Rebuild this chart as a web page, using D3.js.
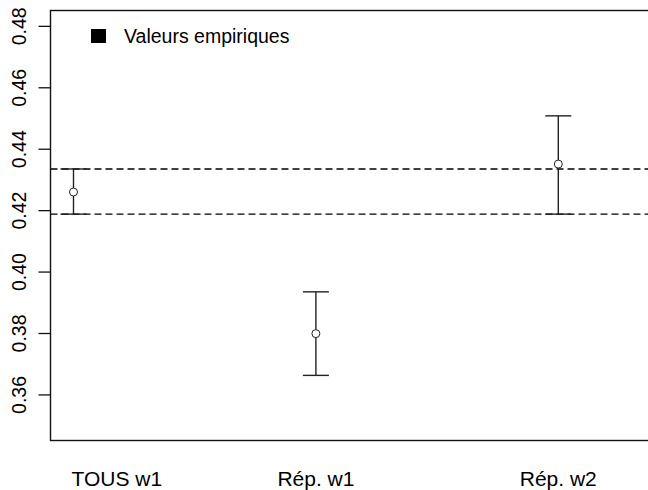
<!DOCTYPE html>
<html>
<head>
<meta charset="utf-8">
<script src="https://cdn.jsdelivr.net/npm/d3@7"></script>
<style>
  html, body { margin: 0; padding: 0; background: #fff; }
  svg { display: block; font-family: "Liberation Sans", Arial, sans-serif; }
</style>
</head>
<body>
<svg id="chart" width="648" height="490"></svg>
<script>
// Groups and their estimates with confidence bounds
const groups = ["TOUS w1", "Rép. w1", "Rép. w2"];
const estimates = [0.4259, 0.3798, 0.4350];
const lowerBounds = [0.4187, 0.3662, 0.4187];
const upperBounds = [0.4334, 0.3934, 0.4507];
// Reference band drawn as dashed horizontal lines
const referenceLines = [0.4334, 0.4187];
const yTicks = [0.36, 0.38, 0.40, 0.42, 0.44, 0.46, 0.48];
const legendLabel = "Valeurs empiriques";

const svg = d3.select("#chart");
const W = 648, H = 490;
const plot = { left: 50.5, top: 10.5, right: 652, bottom: 440.5 };

const y = d3.scaleLinear().domain([0.345, 0.485]).range([plot.bottom, plot.top]);
const x = d3.scaleLinear().domain([1, 3]).range([73.5, 558.3]);

// y axis with rotated tick labels
const yAxis = d3.axisLeft(y).tickValues(yTicks).tickSize(12).tickSizeOuter(0)
  .tickFormat(d3.format(".2f"));
const gy = svg.append("g").attr("transform", `translate(${plot.left},0)`).call(yAxis);
gy.select(".domain").remove();
gy.selectAll(".tick line").attr("stroke", "#111").attr("stroke-width", 1.3);
gy.selectAll(".tick text")
  .attr("x", null).attr("dy", null)
  .attr("transform", "translate(-25,0) rotate(-90)")
  .attr("text-anchor", "middle")
  .attr("font-size", 19.5)
  .attr("fill", "#000");

// reference dashed lines
svg.append("g").selectAll("line").data(referenceLines).join("line")
  .attr("x1", plot.left).attr("x2", W)
  .attr("y1", d => y(d)).attr("y2", d => y(d))
  .attr("stroke", "#000").attr("stroke-width", 1.3)
  .attr("stroke-dasharray", "7,4");

// error bars
const capHalf = 13;
const bars = svg.append("g").selectAll("g").data(groups).join("g");
bars.append("line")
  .attr("x1", (d, i) => x(i + 1)).attr("x2", (d, i) => x(i + 1))
  .attr("y1", (d, i) => y(lowerBounds[i])).attr("y2", (d, i) => y(upperBounds[i]))
  .attr("stroke", "#222").attr("stroke-width", 1.4);
bars.append("line")
  .attr("x1", (d, i) => x(i + 1) - capHalf).attr("x2", (d, i) => x(i + 1) + capHalf)
  .attr("y1", (d, i) => y(upperBounds[i])).attr("y2", (d, i) => y(upperBounds[i]))
  .attr("stroke", "#222").attr("stroke-width", 1.4);
bars.append("line")
  .attr("x1", (d, i) => x(i + 1) - capHalf).attr("x2", (d, i) => x(i + 1) + capHalf)
  .attr("y1", (d, i) => y(lowerBounds[i])).attr("y2", (d, i) => y(lowerBounds[i]))
  .attr("stroke", "#222").attr("stroke-width", 1.4);
bars.append("circle")
  .attr("cx", (d, i) => x(i + 1)).attr("cy", (d, i) => y(estimates[i]))
  .attr("r", 4).attr("fill", "#fff").attr("stroke", "#222").attr("stroke-width", 1);

// plot frame
svg.append("rect")
  .attr("x", plot.left).attr("y", plot.top)
  .attr("width", plot.right - plot.left).attr("height", plot.bottom - plot.top)
  .attr("fill", "none").attr("stroke", "#111").attr("stroke-width", 1.4);

// group labels
svg.append("g").selectAll("text").data(groups).join("text")
  .attr("x", (d, i) => i === 0 ? x(1) - 2 : x(i + 1))
  .attr("y", 486)
  .attr("text-anchor", (d, i) => i === 0 ? "start" : "middle")
  .attr("font-size", 21)
  .attr("fill", "#000")
  .text(d => d);

// legend
const lg = svg.append("g");
lg.append("rect").attr("x", 91).attr("y", 29).attr("width", 15).attr("height", 14).attr("fill", "#000");
lg.append("text").attr("x", 124).attr("y", 43).attr("font-size", 19.5).attr("fill", "#000").text(legendLabel);
</script>
</body>
</html>
